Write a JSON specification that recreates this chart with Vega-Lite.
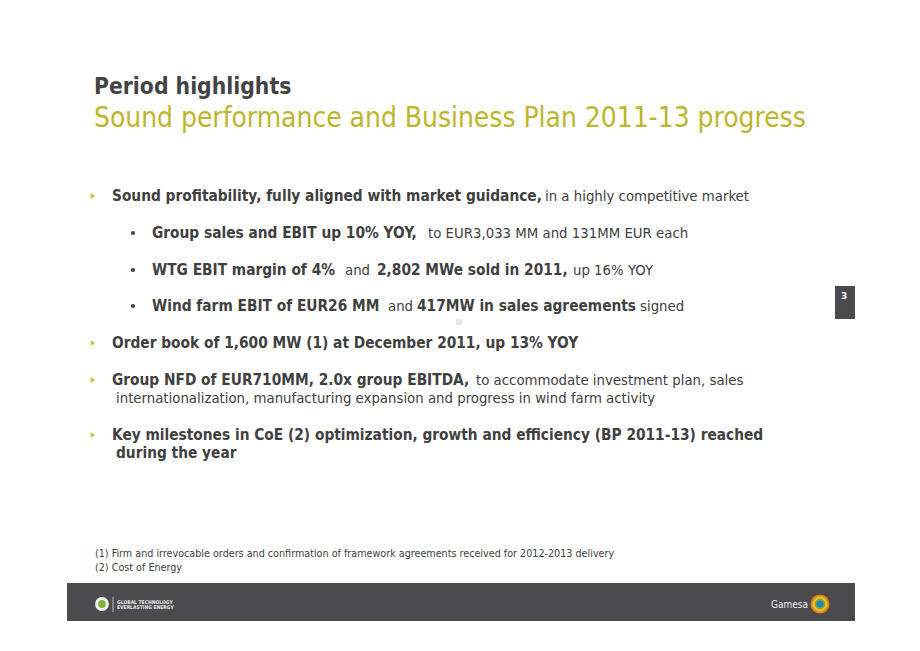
{
  "$schema": "https://vega.github.io/schema/vega-lite/v6.json",
  "width": 920,
  "height": 651,
  "padding": 0,
  "autosize": {"type": "fit", "contains": "padding"},
  "background": "white",
  "config": {"view": {"stroke": null}},
  "datasets": {
    "texts": [
      {"role": "heading", "text": "Period highlights", "x": 94, "y": 94},
      {"role": "subheading", "text": "Sound performance and Business Plan 2011-13 progress", "x": 94, "y": 127},
      {"role": "strong", "text": "Sound profitability, fully aligned with market guidance,", "x": 112, "y": 201},
      {"role": "body", "text": "in a highly competitive market", "x": 545, "y": 201},
      {"role": "strong", "text": "Group sales and EBIT up 10% YOY,", "x": 152, "y": 238},
      {"role": "body", "text": "to EUR3,033 MM and 131MM EUR each", "x": 428, "y": 238},
      {"role": "strong", "text": "WTG EBIT margin of 4%", "x": 152, "y": 275},
      {"role": "body", "text": "and", "x": 345, "y": 275},
      {"role": "strong", "text": "2,802 MWe sold in 2011,", "x": 377, "y": 275},
      {"role": "body", "text": "up 16% YOY", "x": 573, "y": 275},
      {"role": "strong", "text": "Wind farm EBIT of EUR26 MM", "x": 152, "y": 311},
      {"role": "body", "text": "and", "x": 388, "y": 311},
      {"role": "strong", "text": "417MW in sales agreements", "x": 417, "y": 311},
      {"role": "body", "text": "signed", "x": 640, "y": 311},
      {"role": "strong", "text": "Order book of 1,600 MW (1) at December 2011, up 13% YOY", "x": 112, "y": 348},
      {"role": "strong", "text": "Group NFD of EUR710MM, 2.0x group EBITDA,", "x": 112, "y": 385},
      {"role": "body", "text": "to accommodate investment plan, sales", "x": 476, "y": 385},
      {"role": "body", "text": "internationalization, manufacturing expansion and progress in wind farm activity", "x": 116, "y": 403},
      {"role": "strong", "text": "Key milestones in CoE (2) optimization, growth and efficiency (BP 2011-13) reached", "x": 112, "y": 440},
      {"role": "strong", "text": "during the year", "x": 116, "y": 458},
      {"role": "note", "text": "(1) Firm and irrevocable orders and confirmation of framework agreements received for 2012-2013 delivery", "x": 95, "y": 557},
      {"role": "note", "text": "(2) Cost of Energy", "x": 95, "y": 571},
      {"role": "page", "text": "3", "x": 841, "y": 299},
      {"role": "tiny", "text": "GLOBAL TECHNOLOGY", "x": 117, "y": 604},
      {"role": "tiny", "text": "EVERLASTING ENERGY", "x": 117, "y": 609},
      {"role": "brand", "text": "Gamesa", "x": 771, "y": 608}
    ],
    "boxes": [
      {"part": "footer", "x": 67, "x2": 855, "y": 583, "y2": 621},
      {"part": "page", "x": 835, "x2": 855, "y": 286, "y2": 319},
      {"part": "mark", "x": 456, "x2": 462, "y": 319, "y2": 325},
      {"part": "divider", "x": 112.5, "x2": 113.5, "y": 597, "y2": 612}
    ],
    "markers": [
      {"level": "1", "x": 93, "y": 196},
      {"level": "2", "x": 133, "y": 233},
      {"level": "2", "x": 133, "y": 270},
      {"level": "2", "x": 133, "y": 306},
      {"level": "1", "x": 93, "y": 343},
      {"level": "1", "x": 93, "y": 380},
      {"level": "1", "x": 93, "y": 435}
    ],
    "logo": [
      {"ring": "orange", "x": 820, "y": 604, "d": 380},
      {"ring": "yellow", "x": 820, "y": 604, "d": 230},
      {"ring": "green", "x": 820, "y": 604, "d": 120},
      {"ring": "blue", "x": 820, "y": 604, "d": 50},
      {"ring": "white", "x": 102, "y": 604, "d": 200},
      {"ring": "leaf", "x": 102, "y": 604, "d": 60}
    ]
  },
  "resolve": {"scale": {"color": "independent", "size": "independent"}},
  "encoding": {
    "x": {"field": "x", "type": "quantitative", "scale": {"domain": [0, 920], "nice": false, "zero": false}, "axis": null},
    "y": {"field": "y", "type": "quantitative", "scale": {"domain": [0, 651], "nice": false, "zero": false, "reverse": true}, "axis": null}
  },
  "layer": [
    {
      "data": {"name": "boxes"},
      "mark": {"type": "rect"},
      "encoding": {
        "x2": {"field": "x2"},
        "y2": {"field": "y2"},
        "color": {"field": "part", "type": "nominal", "scale": {"domain": ["footer", "page", "mark", "divider"], "range": ["#4b4b4d", "#4b4b4d", "#e6e6e6", "#bdbdbd"]}, "legend": null}
      }
    },
    {
      "data": {"name": "logo"},
      "mark": {"type": "point", "shape": "circle", "filled": true, "opacity": 1},
      "encoding": {
        "size": {"field": "d", "type": "quantitative", "scale": {"type": "identity"}, "legend": null},
        "color": {"field": "ring", "type": "nominal", "scale": {"domain": ["orange", "yellow", "green", "blue", "white", "leaf"], "range": ["#e8821e", "#f0c020", "#6fb43a", "#2a7fc0", "#f2f2f2", "#7cb83a"]}, "legend": null}
      }
    },
    {
      "data": {"name": "markers"},
      "transform": [{"filter": "datum.level == '1'"}],
      "mark": {"type": "point", "shape": "triangle-right", "filled": true, "size": 30, "color": "#c8c03a", "opacity": 1},
      "encoding": {}
    },
    {
      "data": {"name": "markers"},
      "transform": [{"filter": "datum.level == '2'"}],
      "mark": {"type": "point", "shape": "circle", "filled": true, "size": 18, "color": "#404040", "opacity": 1},
      "encoding": {}
    },
    {
      "data": {"name": "texts"},
      "transform": [{"filter": "datum.role == 'heading'"}],
      "mark": {"type": "text", "align": "left", "baseline": "alphabetic", "font": "DejaVu Sans Condensed", "fontWeight": "bold", "fontSize": 22.7, "color": "#444444"},
      "encoding": {"text": {"field": "text"}}
    },
    {
      "data": {"name": "texts"},
      "transform": [{"filter": "datum.role == 'subheading'"}],
      "mark": {"type": "text", "align": "left", "baseline": "alphabetic", "font": "DejaVu Sans Condensed", "fontSize": 27.9, "color": "#bdb52c"},
      "encoding": {"text": {"field": "text"}}
    },
    {
      "data": {"name": "texts"},
      "transform": [{"filter": "datum.role == 'strong'"}],
      "mark": {"type": "text", "align": "left", "baseline": "alphabetic", "font": "DejaVu Sans Condensed", "fontWeight": "bold", "fontSize": 15.3, "color": "#404040"},
      "encoding": {"text": {"field": "text"}}
    },
    {
      "data": {"name": "texts"},
      "transform": [{"filter": "datum.role == 'body'"}],
      "mark": {"type": "text", "align": "left", "baseline": "alphabetic", "font": "DejaVu Sans Condensed", "fontSize": 14.8, "color": "#404040"},
      "encoding": {"text": {"field": "text"}}
    },
    {
      "data": {"name": "texts"},
      "transform": [{"filter": "datum.role == 'note'"}],
      "mark": {"type": "text", "align": "left", "baseline": "alphabetic", "font": "DejaVu Sans Condensed", "fontSize": 10.7, "color": "#404040"},
      "encoding": {"text": {"field": "text"}}
    },
    {
      "data": {"name": "texts"},
      "transform": [{"filter": "datum.role == 'page'"}],
      "mark": {"type": "text", "align": "left", "baseline": "alphabetic", "font": "DejaVu Sans", "fontWeight": "bold", "fontSize": 9, "color": "#ffffff"},
      "encoding": {"text": {"field": "text"}}
    },
    {
      "data": {"name": "texts"},
      "transform": [{"filter": "datum.role == 'tiny'"}],
      "mark": {"type": "text", "align": "left", "baseline": "alphabetic", "font": "DejaVu Sans Condensed", "fontWeight": "bold", "fontSize": 5, "color": "#e8e8e8"},
      "encoding": {"text": {"field": "text"}}
    },
    {
      "data": {"name": "texts"},
      "transform": [{"filter": "datum.role == 'brand'"}],
      "mark": {"type": "text", "align": "left", "baseline": "alphabetic", "font": "DejaVu Sans Condensed", "fontSize": 10, "color": "#f0f0f0"},
      "encoding": {"text": {"field": "text"}}
    }
  ]
}
